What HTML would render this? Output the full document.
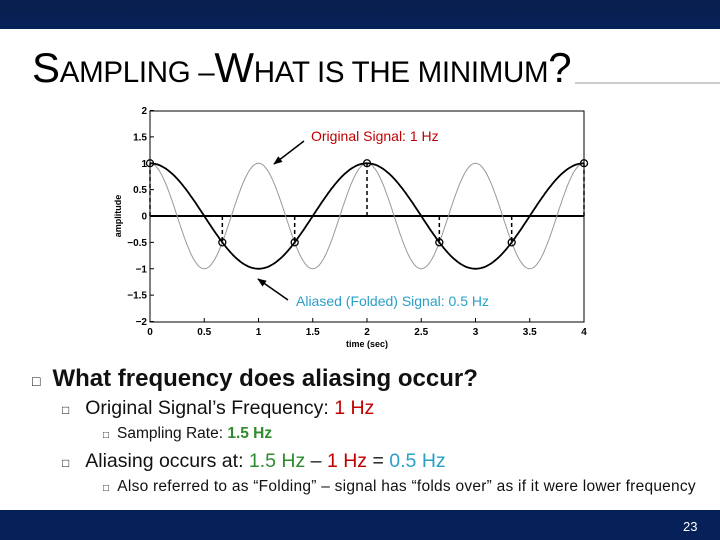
<!DOCTYPE html>
<html><head><meta charset="utf-8"><style>
body{margin:0;width:720px;height:540px;position:relative;background:#fff;font-family:"Liberation Sans",sans-serif;overflow:hidden}
.abs{position:absolute;white-space:nowrap}
</style></head><body>
<div class="abs" style="left:0;top:0;width:720px;height:29px;background:linear-gradient(#0a1f4c,#06205a)"></div>
<div class="abs" style="left:32px;top:44px;font-size:29.5px;color:#000;letter-spacing:-0.3px"><span style="font-size:42px">S</span>AMPLING –<span style="font-size:42px">W</span>HAT IS THE MINIMUM<span style="font-size:42px">?</span></div>
<div class="abs" style="left:575px;top:82px;width:145px;height:2px;background:#ccc"></div>
<svg class="abs" style="left:0;top:0" width="720" height="360" id="chart"></svg>
<div class="abs" style="left:32px;top:365px;font-size:24px;font-weight:bold;color:#111"><span style="font-size:14px;margin-right:12px;font-weight:normal">□</span>What frequency does aliasing occur?</div>
<div class="abs" style="left:62px;top:397px;font-size:19.5px;color:#111"><span style="font-size:12px;margin-right:16px">□</span>Original Signal’s Frequency: <span style="color:#c00000">1 Hz</span></div>
<div class="abs" style="left:103px;top:425px;font-size:15.5px;color:#111"><span style="font-size:10px;margin-right:8px">□</span>Sampling Rate: <b style="color:#2e8b2e">1.5 Hz</b></div>
<div class="abs" style="left:62px;top:450px;font-size:19.5px;color:#111"><span style="font-size:12px;margin-right:16px">□</span>Aliasing occurs at: <span style="color:#2e8b2e">1.5 Hz</span> – <span style="color:#c00000">1 Hz</span> = <span style="color:#2aa0c8">0.5 Hz</span></div>
<div class="abs" style="left:103px;top:478px;font-size:15.5px;color:#111;letter-spacing:0.25px"><span style="font-size:10px;margin-right:8px">□</span>Also referred to as “Folding” – signal has “folds over” as if it were lower frequency</div>
<div class="abs" style="left:0;top:510px;width:720px;height:30px;background:#06205a"></div>
<div class="abs" style="left:683px;top:519px;font-size:13px;color:#fff">23</div>
<script>
const xTicks=[0,0.5,1,1.5,2,2.5,3,3.5,4];
const yTicks=[2,1.5,1,0.5,0,-0.5,-1,-1.5,-2];
const origFreq=[1];
const aliasFreq=[0.5];
const sampleRate=[1.5];
const svg=document.getElementById('chart');
const NS='http://www.w3.org/2000/svg';
const X=v=>150+v*108.5, Y=v=>216-v*52.75;
function mk(t,a,p){const e=document.createElementNS(NS,t);for(const k in a)e.setAttribute(k,a[k]);(p||svg).appendChild(e);return e;}
const defs=mk('defs',{});
const mkr=mk('marker',{id:'ah',viewBox:'0 0 10 10',refX:9,refY:5,markerWidth:6,markerHeight:6,orient:'auto'},defs);
mk('path',{d:'M0,1 L10,5 L0,9 z',fill:'#000'},mkr);
let e=mk('rect',{x:150,y:111,width:434,height:211,fill:'none',stroke:'#000','stroke-width':1});


xTicks.forEach(v=>{mk('line',{x1:X(v),x2:X(v),y1:322,y2:318,stroke:'#000'});
 const t=mk('text',{x:X(v),y:335,'font-size':10,'font-weight':'bold','text-anchor':'middle'});t.textContent=v;
 
 });
yTicks.forEach(v=>{mk('line',{x1:150,x2:154,y1:Y(v),y2:Y(v),stroke:'#000'});
 const t=mk('text',{x:147,y:Y(v)+3.5,'font-size':10,'font-weight':'bold','text-anchor':'end'});t.textContent=String(v).replace('-','−');
 
 });
let t=mk('text',{x:367,y:347,'font-size':9,'font-weight':'bold','text-anchor':'middle'});t.textContent='time (sec)';


t=mk('text',{x:0,y:0,'font-size':9,'font-weight':'bold','text-anchor':'middle',transform:'translate(121,216) rotate(-90)'});t.textContent='amplitude';


mk('line',{x1:150,x2:584,y1:Y(0),y2:Y(0),stroke:'#000','stroke-width':2});
function curve(f){let d='';for(let i=0;i<=400;i++){const tt=i/100;d+=(i?'L':'M')+X(tt).toFixed(1)+','+Y(Math.cos(2*Math.PI*f*tt)).toFixed(1);}return d;}
e=mk('path',{d:curve(origFreq[0]),fill:'none',stroke:'#999','stroke-width':1});


e=mk('path',{d:curve(aliasFreq[0]),fill:'none',stroke:'#000','stroke-width':1.8});


for(let k=0;k/sampleRate[0]<=4.0001;k++){const tt=k/sampleRate[0],v=Math.cos(2*Math.PI*origFreq[0]*tt);
 mk('line',{x1:X(tt),x2:X(tt),y1:Y(0),y2:Y(v),stroke:'#000','stroke-width':1.5,'stroke-dasharray':'4,3'});
 const c=mk('circle',{cx:X(tt),cy:Y(v),r:3.5,fill:'none',stroke:'#000','stroke-width':1.3});
 
 }
t=mk('text',{x:311,y:141,'font-size':14,fill:'#c00000'});t.textContent='Original Signal: 1 Hz';


mk('line',{x1:304,x2:274,y1:141,y2:164,stroke:'#000','stroke-width':1.5,'marker-end':'url(#ah)'});
t=mk('text',{x:296,y:306,'font-size':14,fill:'#2aa0c8'});t.textContent='Aliased (Folded) Signal: 0.5 Hz';


mk('line',{x1:288,x2:258,y1:300,y2:279,stroke:'#000','stroke-width':1.5,'marker-end':'url(#ah)'});
</script>
</body></html>
